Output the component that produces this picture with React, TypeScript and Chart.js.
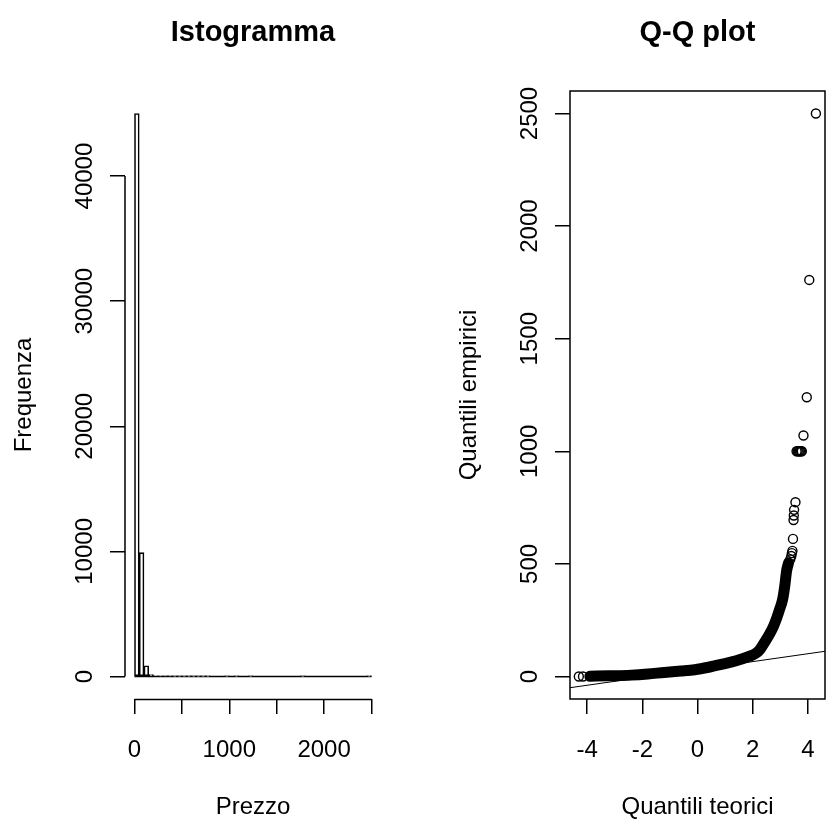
import React, { useEffect, useRef } from 'react';
import { Chart, registerables } from 'chart.js';

Chart.register(...registerables);

const FONT = '"Liberation Sans", Arial, Helvetica, sans-serif';
Chart.defaults.font.family = FONT;
Chart.defaults.color = '#000';

// ---- Histogram of prices: bins of width 50 starting at 0 ----
const priceBinStart = 0;
const priceBinWidth = 50;
const priceCounts = [
  45000, 9900, 850, 150, 60, 30, 18, 10, 6, 4,
  5, 3, 1, 1, 2, 1, 0, 0, 0, 6,
  0, 1, 0, 0, 1, 0, 0, 0, 0, 0,
  0, 0, 0, 0, 0, 1, 0, 0, 0, 0,
  0, 0, 0, 0, 0, 0, 0, 0, 0, 1,
];
const histXTicks = [0, 500, 1000, 1500, 2000, 2500];
const histXLabelled = [0, 1000, 2000];
const histYTicks = [0, 10000, 20000, 30000, 40000];

// ---- Normal Q-Q plot ----
// dense part of the sample (overlapping markers form a solid band)
const qqBandX = [-3.9, -3.2, -2.4, -1.8, -1.2, -0.6, -0.1, 0.4, 0.9, 1.4, 1.87, 2.1, 2.25, 2.42, 2.62, 2.76, 2.88, 2.98, 3.08, 3.16, 3.23, 3.3];
const qqBandY = [1, 3, 6, 11, 18, 24, 30, 41, 55, 70, 89, 102, 118, 150, 190, 225, 263, 300, 340, 400, 470, 505];
// isolated observations in the tails
const qqPointX = [-4.3, -4.15, 3.36, 3.4, 3.42, 3.44, 3.46, 3.48, 3.49, 3.5, 3.55, 3.59, 3.63, 3.67, 3.71, 3.75, 3.78, 3.84, 3.96, 4.05, 4.29];
const qqPointY = [0, 0, 520, 535, 548, 558, 611, 695, 715, 740, 774, 1000, 1000, 1000, 1000, 1000, 1000, 1070, 1240, 1761, 2500];
// reference line through the quartiles
const qqLineIntercept = 31;
const qqLineSlope = 17.5;
const qqXTicks = [-4, -2, 0, 2, 4];
const qqYTicks = [0, 500, 1000, 1500, 2000, 2500];

const labelFont = { family: FONT, size: 24, lineHeight: 1.2 };
const LINE_W = 1.5;

const tickGrid = {
  display: true,
  drawOnChartArea: false,
  drawTicks: true,
  tickLength: 15,
  tickWidth: LINE_W,
  tickColor: '#000',
  color: '#000',
  lineWidth: LINE_W,
  offset: false,
};

const fixedTicks = (values: number[]) => (scale: any) => {
  scale.ticks = values.map((v) => ({ value: v }));
};

// panel title drawn above the plotting region
const rTitlePlugin = {
  id: 'rTitle',
  afterDraw(chart: any, _args: any, opts: any) {
    const { ctx, chartArea } = chart;
    ctx.save();
    ctx.font = `bold 29px ${FONT}`;
    ctx.fillStyle = '#000';
    ctx.textAlign = 'center';
    ctx.textBaseline = 'alphabetic';
    ctx.fillText(opts.text, (chartArea.left + chartArea.right) / 2, 41);
    ctx.restore();
  },
};

// axis lines spanning only from the first to the last tick
const rAxisPlugin = {
  id: 'rAxis',
  afterDraw(chart: any) {
    const { ctx, chartArea, scales } = chart;
    const x = scales.x;
    const y = scales.y;
    const xt = x.ticks;
    const yt = y.ticks;
    ctx.save();
    ctx.strokeStyle = '#000';
    ctx.lineWidth = LINE_W;
    ctx.beginPath();
    ctx.moveTo(x.getPixelForValue(xt[0].value), chartArea.bottom + 0.5);
    ctx.lineTo(x.getPixelForValue(xt[xt.length - 1].value), chartArea.bottom + 0.5);
    ctx.moveTo(chartArea.left, y.getPixelForValue(yt[0].value));
    ctx.lineTo(chartArea.left, y.getPixelForValue(yt[yt.length - 1].value));
    ctx.stroke();
    ctx.restore();
  },
};

// frame around the plotting region
const rBoxPlugin = {
  id: 'rBox',
  afterDraw(chart: any) {
    const { ctx, chartArea } = chart;
    ctx.save();
    ctx.strokeStyle = '#000';
    ctx.lineWidth = LINE_W;
    ctx.strokeRect(chartArea.left, chartArea.top, chartArea.right - chartArea.left, chartArea.bottom - chartArea.top);
    ctx.restore();
  },
};

function histConfig(): any {
  const bars = priceCounts.map((c, i) => ({ x: priceBinStart + (i + 0.5) * priceBinWidth, y: c }));
  const lastEdge = priceBinStart + priceCounts.length * priceBinWidth;
  return {
    type: 'bar',
    data: {
      datasets: [
        {
          type: 'bar',
          data: bars,
          backgroundColor: '#fff',
          borderColor: '#000',
          borderWidth: 1.6,
          borderSkipped: false,
          barPercentage: 1,
          categoryPercentage: 1,
        },
        {
          type: 'line',
          data: [
            { x: priceBinStart, y: 0 },
            { x: lastEdge, y: 0 },
          ],
          borderColor: '#000',
          borderWidth: LINE_W,
          pointRadius: 0,
        },
      ],
    },
    options: {
      animation: false,
      responsive: false,
      events: [],
      layout: { padding: { left: 0, right: 64, top: 91, bottom: 0 } },
      plugins: {
        legend: { display: false },
        tooltip: { enabled: false },
        title: { display: false },
        rTitle: { text: 'Istogramma' },
      },
      scales: {
        x: {
          type: 'linear',
          min: -100,
          max: 2600,
          offset: false,
          afterBuildTicks: fixedTicks(histXTicks),
          afterFit: (s: any) => {
            s.height = 121;
          },
          ticks: {
            font: labelFont,
            color: '#000',
            padding: 22,
            maxRotation: 0,
            autoSkip: false,
            callback: (v: number) => (histXLabelled.includes(v) ? String(v) : ''),
          },
          grid: tickGrid,
          border: { display: false },
          title: { display: true, text: 'Prezzo', font: labelFont, color: '#000', padding: { top: 0, bottom: -2 } },
        },
        y: {
          type: 'linear',
          min: -1800,
          max: 46800,
          afterBuildTicks: fixedTicks(histYTicks),
          afterFit: (s: any) => {
            s.width = 125;
          },
          ticks: {
            font: labelFont,
            color: '#000',
            padding: -8.4,
            crossAlign: 'center',
            minRotation: 90,
            maxRotation: 90,
            autoSkip: false,
            callback: (v: number) => String(v),
          },
          grid: tickGrid,
          border: { display: false },
          title: { display: true, text: 'Frequenza', font: labelFont, color: '#000', padding: { top: 9.5, bottom: 0 } },
        },
      },
    },
    plugins: [rTitlePlugin, rAxisPlugin],
  };
}

function qqConfig(): any {
  const xMin = -4.62;
  const xMax = 4.62;
  const band = qqBandX.map((x, i) => ({ x, y: qqBandY[i] }));
  const points = qqPointX.map((x, i) => ({ x, y: qqPointY[i] }));
  const refLine = [xMin, xMax].map((x) => ({ x, y: qqLineIntercept + qqLineSlope * x }));
  return {
    type: 'scatter',
    data: {
      datasets: [
        {
          type: 'line',
          data: refLine,
          borderColor: '#000',
          borderWidth: 1,
          pointRadius: 0,
        },
        {
          type: 'line',
          data: band,
          borderColor: '#000',
          borderWidth: 11,
          borderCapStyle: 'round',
          borderJoinStyle: 'round',
          cubicInterpolationMode: 'monotone',
          pointRadius: 0,
          fill: false,
        },
        {
          type: 'scatter',
          data: points,
          pointStyle: 'circle',
          pointRadius: 4.5,
          pointBorderWidth: 1.4,
          borderColor: '#000',
          backgroundColor: 'rgba(0,0,0,0)',
        },
      ],
    },
    options: {
      animation: false,
      responsive: false,
      events: [],
      layout: { padding: { left: 0, right: 65, top: 91, bottom: 0 } },
      plugins: {
        legend: { display: false },
        tooltip: { enabled: false },
        title: { display: false },
        rTitle: { text: 'Q-Q plot' },
      },
      scales: {
        x: {
          type: 'linear',
          min: xMin,
          max: xMax,
          afterBuildTicks: fixedTicks(qqXTicks),
          afterFit: (s: any) => {
            s.height = 121;
          },
          ticks: {
            font: labelFont,
            color: '#000',
            padding: 22,
            maxRotation: 0,
            autoSkip: false,
            callback: (v: number) => String(v),
          },
          grid: tickGrid,
          border: { display: false },
          title: { display: true, text: 'Quantili teorici', font: labelFont, color: '#000', padding: { top: 0, bottom: -2 } },
        },
        y: {
          type: 'linear',
          min: -100,
          max: 2600,
          afterBuildTicks: fixedTicks(qqYTicks),
          afterFit: (s: any) => {
            s.width = 125;
          },
          ticks: {
            font: labelFont,
            color: '#000',
            padding: -1.7,
            crossAlign: 'center',
            minRotation: 90,
            maxRotation: 90,
            autoSkip: false,
            callback: (v: number) => String(v),
          },
          grid: tickGrid,
          border: { display: false },
          title: { display: true, text: 'Quantili empirici', font: labelFont, color: '#000', padding: { top: 9.5, bottom: 0 } },
        },
      },
    },
    plugins: [rTitlePlugin, rBoxPlugin],
  };
}

export default function App() {
  const histRef = useRef<HTMLCanvasElement>(null);
  const qqRef = useRef<HTMLCanvasElement>(null);

  useEffect(() => {
    const hist = new Chart(histRef.current as HTMLCanvasElement, histConfig());
    const qq = new Chart(qqRef.current as HTMLCanvasElement, qqConfig());
    return () => {
      hist.destroy();
      qq.destroy();
    };
  }, []);

  return (
    <div style={{ position: 'absolute', left: 0, top: 0, width: 826, height: 820, background: '#fff', overflow: 'hidden' }}>
      <canvas ref={histRef} width={445} height={820} style={{ position: 'absolute', left: 0, top: 0 }} />
      <canvas ref={qqRef} width={445} height={820} style={{ position: 'absolute', left: 445, top: 0 }} />
    </div>
  );
}
